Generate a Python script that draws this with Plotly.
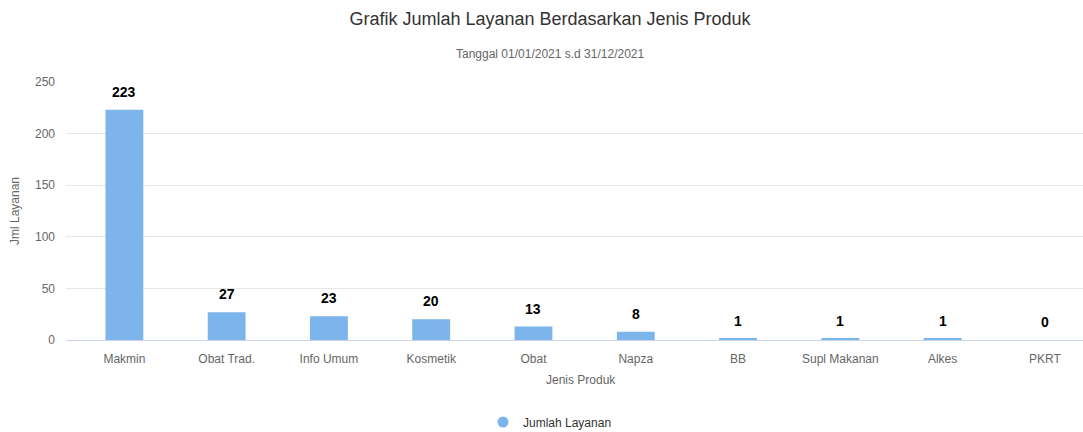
import plotly.graph_objects as go

categories = ["Makmin", "Obat Trad.", "Info Umum", "Kosmetik", "Obat", "Napza", "BB", "Supl Makanan", "Alkes", "PKRT"]
values = [223, 27, 23, 20, 13, 8, 1, 1, 1, 0]
y_ticks = [0, 50, 100, 150, 200, 250]

# the reference chart is 1100 px wide, cropped to the 1083 px window
W, H = 1100, 432
ML, MR, MT, MB = 66, 4, 82, 92
FONT = "Liberation Sans"
BAR_COLOR = "#7cb5ec"

fig = go.Figure()
fig.add_trace(go.Bar(
    x=categories, y=values, name="Jumlah Layanan",
    marker=dict(color=BAR_COLOR, line=dict(width=0)),
    width=0.37, showlegend=False, cliponaxis=False, hoverinfo="x+y",
))
# legend entry with a circle symbol (Highcharts style)
fig.add_trace(go.Scatter(
    x=[categories[0]], y=[None], mode="markers", name="Jumlah Layanan",
    marker=dict(symbol="circle", size=11, color=BAR_COLOR), showlegend=True,
))

for c, v in zip(categories, values):
    fig.add_annotation(x=c, y=v, xref="x", yref="y", text=f"<b>{v}</b>", showarrow=False,
                       yanchor="middle", yshift=18,
                       font=dict(family=FONT, size=14, color="#000000"))

plot_h = H - MT - MB

fig.update_layout(
    width=W, height=H,
    margin=dict(l=ML, r=MR, t=MT, b=MB, autoexpand=False),
    paper_bgcolor="white", plot_bgcolor="white",
    font=dict(family=FONT, color="#666666", size=12),
    title=dict(text="Grafik Jumlah Layanan Berdasarkan Jenis Produk",
               x=0.5, xanchor="center", y=1 - 19 / H, yanchor="middle",
               font=dict(family=FONT, size=18, color="#333333")),
    showlegend=True,
    legend=dict(orientation="h", xref="container", x=0.5, xanchor="center",
                yref="container", y=1 - 422 / H, yanchor="middle",
                font=dict(family=FONT, size=12, color="#333333"), itemwidth=30),
    xaxis=dict(showgrid=False, showline=True, linecolor="#ccd6eb", linewidth=1,
               ticks="", tickfont=dict(family=FONT, size=12, color="#666666"),
               ticklabelstandoff=8, automargin=False, fixedrange=True),
    yaxis=dict(range=[0, 250], tickvals=y_ticks, showgrid=True, gridcolor="#e6e6e6",
               gridwidth=1, zeroline=False, showline=False, automargin=False,
               tickfont=dict(family=FONT, size=12, color="#666666"), ticklabelstandoff=10),
)

fig.add_annotation(text="Tanggal 01/01/2021 s.d 31/12/2021", xref="paper", yref="paper",
                   x=(550 - ML) / (W - ML - MR), y=1 + (MT - 54) / plot_h, yanchor="middle",
                   showarrow=False, font=dict(family=FONT, size=12, color="#666666"))
fig.add_annotation(text="Jenis Produk", xref="paper", yref="paper",
                   x=0.5, y=-(380 - (MT + plot_h)) / plot_h, yanchor="middle", showarrow=False,
                   font=dict(family=FONT, size=12, color="#666666"))
fig.add_annotation(text="Jml Layanan", xref="paper", yref="paper",
                   x=-(ML - 15) / (W - ML - MR), xanchor="center", y=0.5, yanchor="middle",
                   textangle=-90, showarrow=False,
                   font=dict(family=FONT, size=12, color="#666666"))

fig.write_html("out.html", config={"displayModeBar": False},
               post_script="document.body.style.margin='0';document.body.style.overflow='hidden';")
